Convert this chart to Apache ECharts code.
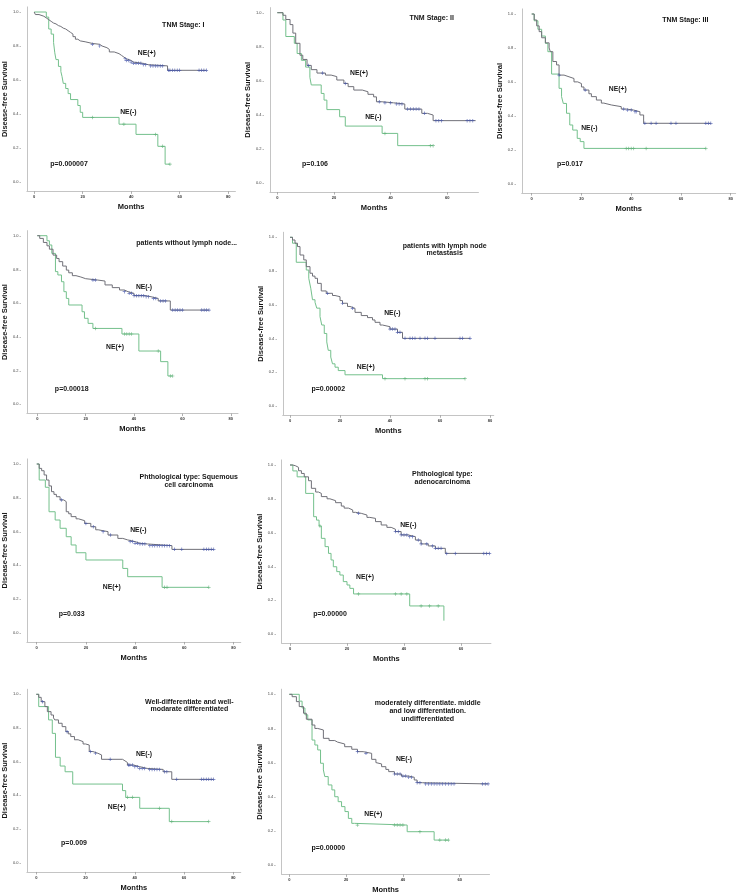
<!DOCTYPE html>
<html><head><meta charset="utf-8">
<script src="https://cdn.jsdelivr.net/npm/echarts@6/dist/echarts.min.js"></script>
<style>html,body{margin:0;padding:0;background:#fff}#c{width:744px;height:896px}</style>
</head><body><div id="c"></div>
<script>
// ---------- DATA (Kaplan–Meier steps: [month, survival]) ----------
const xTicksWide = [0, 20, 40, 60, 80];
const xTicksNarrow = [0, 20, 40, 60];
const yTicks = [0, 0.2, 0.4, 0.6, 0.8, 1.0];

const titles = ['TNM Stage: I', 'TNM Stage: II', 'TNM Stage: III',
  'patients without lymph node...', 'patients with lymph node\nmetastasis',
  'Phthological type: Squemous\ncell carcinoma', 'Phthological type:\nadenocarcinoma',
  'Well-differentiate and well-\nmodarate differentiated',
  'moderately differentiate. middle\nand low differentiation.\nundifferentiated'];
const grayLabels = ['NE(+)', 'NE(+)', 'NE(+)', 'NE(-)', 'NE(-)', 'NE(-)', 'NE(-)', 'NE(-)', 'NE(-)'];
const greenLabels = ['NE(-)', 'NE(-)', 'NE(-)', 'NE(+)', 'NE(+)', 'NE(+)', 'NE(+)', 'NE(+)', 'NE(+)'];
const pValues = ['p=0.000007', 'p=0.106', 'p=0.017', 'p=0.00018', 'p=0.00002', 'p=0.033', 'p=0.00000', 'p=0.009', 'p=0.00000'];

const gray1 = [[0,1],[0.5,0.985],[2,0.975],[4,0.965],[5,0.955],[6,0.945],[7,0.935],[8,0.93],[9,0.92],[10,0.915],[11,0.905],[12,0.9],[13,0.89],[14,0.88],[15,0.87],[16,0.855],[17,0.84],[18,0.83],[19,0.825],[21,0.815],[24,0.81],[27,0.8],[28,0.79],[30,0.78],[31,0.765],[33,0.755],[35,0.745],[36,0.735],[37,0.725],[38,0.715],[40,0.705],[41,0.698],[45,0.69],[47,0.683],[55,0.657],[71,0.657]];
const grayCens1 = [24,27,37.5,38,39,40,41,42,43,44,45,46,48,49,50,51,52,53,55.5,56,57,58,59,60,68,69,70,71];
const green1 = [[0,1],[5,0.97],[6,0.9],[7,0.87],[8,0.82],[8.5,0.76],[9,0.72],[10,0.68],[11,0.65],[11.5,0.62],[12,0.58],[13,0.55],[14,0.52],[15,0.485],[18,0.45],[19,0.41],[20,0.38],[35,0.34],[42,0.28],[51,0.21],[54,0.105],[56,0.105]];
const greenCens1 = [24,37,50,53,56];

const gray2 = [[0,1],[2,0.985],[3,0.96],[4.5,0.93],[5.5,0.88],[6.5,0.82],[8,0.75],[9,0.725],[10.5,0.69],[12,0.665],[14,0.645],[17,0.633],[19,0.624],[21,0.604],[23.5,0.584],[25,0.565],[27,0.545],[30,0.535],[32,0.52],[34,0.505],[35,0.476],[37,0.47],[41,0.463],[45,0.433],[51,0.408],[53,0.398],[55,0.365],[70,0.365]];
const grayCens2 = [11,16,24,36,38,40,42,43,44,46,47,48,49,50,52,56,57,58,67,68,69];
const green2 = [[0,1],[2,0.957],[3,0.86],[6,0.82],[7,0.76],[8.5,0.72],[10,0.68],[11.5,0.62],[12,0.575],[15.5,0.525],[16.5,0.486],[17.5,0.43],[22,0.388],[24,0.333],[37,0.29],[42.5,0.218],[55,0.218]];
const greenCens2 = [38,54,55];

const gray3 = [[0,1],[1,0.965],[2,0.93],[3,0.896],[4,0.86],[5.5,0.83],[7,0.8],[7.5,0.778],[8.5,0.72],[10,0.7],[11,0.64],[13,0.63],[15,0.62],[17,0.6],[18.5,0.59],[20,0.57],[21,0.552],[23,0.53],[24,0.513],[26,0.493],[28,0.475],[29,0.464],[32,0.454],[36,0.44],[38,0.434],[41,0.424],[43.5,0.405],[45,0.356],[72,0.356]];
const grayCens3 = [11,21.5,37,38.5,40,41.5,42,45.5,48,50,56,58,70,71,72];
const green3 = [[0,1],[1,0.96],[2.5,0.91],[4,0.87],[5.5,0.827],[6.5,0.778],[8,0.646],[11,0.562],[12,0.513],[12.7,0.473],[14,0.415],[15.3,0.346],[16.5,0.316],[18.3,0.267],[19.5,0.248],[21,0.208],[70,0.208]];
const greenCens3 = [38,39,40,41,46,70];

const gray4 = [[0,1],[1,0.984],[2.5,0.96],[4,0.94],[5,0.92],[6.5,0.885],[8,0.865],[9,0.846],[10.5,0.82],[12,0.796],[13,0.78],[14.5,0.763],[16,0.755],[18,0.745],[20,0.737],[25,0.731],[28,0.708],[31,0.692],[34,0.678],[36,0.668],[37.5,0.658],[40,0.644],[45,0.638],[47,0.628],[50,0.613],[55,0.559],[71,0.559]];
const grayCens4 = [23,24,36,38,39,40,41,42,43,44,45,46,48,49,51,52,53,56,57,58,59,60,68,69,70,71];
const green4 = [[0,1],[4,0.97],[5,0.945],[6,0.895],[7.5,0.787],[8.5,0.767],[10,0.727],[11,0.668],[12,0.628],[13,0.589],[18.5,0.549],[19.5,0.51],[21,0.48],[23,0.45],[35,0.417],[42,0.316],[51,0.253],[54,0.168],[56,0.168]];
const greenCens4 = [24,36,37,38,39,50,55,56];

const gray5 = [[0,1],[1,0.984],[2,0.965],[3,0.945],[4,0.895],[5.5,0.866],[6.5,0.826],[8,0.787],[9,0.77],[10,0.757],[11,0.727],[12.5,0.682],[14.5,0.668],[17,0.655],[18,0.648],[20,0.625],[21,0.609],[23,0.59],[24,0.579],[26,0.555],[28.5,0.536],[31,0.524],[33,0.51],[34,0.496],[36,0.48],[37,0.47],[40,0.456],[43,0.437],[45,0.401],[72,0.401]];
const grayCens5 = [15,21,25,40,41,42,43,44,46,48,49,50,52,54,55,58,68,69,72];
const green5 = [[0,1],[1,0.965],[2.5,0.852],[6.5,0.806],[7.5,0.757],[8.3,0.698],[9,0.63],[10,0.615],[10.7,0.58],[12,0.53],[12.7,0.48],[13.7,0.43],[14.7,0.38],[15.3,0.33],[16.3,0.29],[17,0.25],[18,0.23],[19.3,0.21],[22,0.185],[37,0.162],[70,0.162]];
const greenCens5 = [38,46,54,55,70];

const gray6 = [[0,1],[1,0.974],[2,0.96],[3,0.935],[4,0.905],[5,0.87],[6,0.836],[7,0.82],[8,0.806],[9.5,0.787],[11,0.777],[12,0.717],[13,0.705],[14,0.688],[16,0.675],[17,0.664],[19.5,0.648],[22,0.628],[24,0.61],[25,0.599],[29,0.579],[33,0.559],[35,0.55],[37,0.54],[40,0.53],[42,0.526],[45,0.516],[55,0.494],[72,0.494]];
const grayCens6 = [10,20,23,27,30,38,39,40,41,42,43,44,46,47,48,49,50,51,52,53,54,56,59,68,69,70,71,72];
const green6 = [[0,1],[1,0.905],[3.5,0.862],[5,0.717],[7.5,0.668],[9.5,0.619],[12,0.569],[14,0.52],[16,0.474],[20,0.431],[35,0.381],[37,0.332],[51,0.269],[70,0.269]];
const greenCens6 = [52,53,70];

const gray7 = [[0,1],[1,0.995],[2,0.986],[3,0.966],[4,0.95],[5,0.93],[6.5,0.907],[7.5,0.862],[9,0.84],[10,0.832],[11,0.813],[13,0.8],[14,0.789],[16,0.777],[18,0.757],[19,0.745],[20.5,0.734],[22,0.72],[23,0.714],[25,0.704],[27,0.69],[28,0.684],[30,0.665],[32,0.645],[34,0.631],[35.5,0.62],[37,0.606],[39,0.586],[41.5,0.576],[44,0.556],[46,0.533],[48.5,0.521],[51,0.507],[54.5,0.477],[70,0.477]];
const grayCens7 = [24,37,38,39,40,41,42,43,45,46,48,50,51,52,53,55,58,68,69,70];
const green7 = [[0,1],[1,0.965],[2.5,0.93],[5.5,0.832],[8.3,0.694],[9.3,0.674],[10.2,0.639],[11,0.566],[12.3,0.517],[13.5,0.477],[14.4,0.438],[15.2,0.398],[16.4,0.369],[17.5,0.349],[18.7,0.31],[20,0.29],[21,0.27],[22.3,0.237],[42,0.166],[54,0.079]];
const greenCens7 = [10.5,24,37,39,41,46,49,52];

const gray8 = [[0,1],[1,0.982],[2,0.956],[3.5,0.927],[4.5,0.897],[6,0.877],[7,0.86],[7.5,0.848],[9,0.828],[10.5,0.808],[12,0.778],[13,0.765],[14,0.749],[15.5,0.73],[17,0.719],[19,0.705],[20,0.699],[21.5,0.66],[23,0.65],[25,0.64],[26.5,0.614],[35,0.605],[36,0.595],[37,0.58],[39.5,0.57],[42,0.56],[45,0.554],[51.5,0.54],[55,0.495],[72,0.495]];
const grayCens8 = [2.5,12.5,22,24,30,37.5,38,39,40,41,42,43,44,46,47,48,49,50,52,53,57,67,68,69,70,71,72];
const green8 = [[0,1],[1,0.927],[5,0.848],[6.5,0.768],[7.8,0.626],[9.7,0.574],[11.7,0.54],[14.8,0.467],[35,0.428],[36.3,0.388],[42,0.323],[54,0.244],[70,0.244]];
const greenCens8 = [37,39,50,55,70];

const gray9 = [[0,1],[1,0.986],[2.5,0.957],[3.5,0.928],[5,0.889],[6,0.854],[8,0.82],[9,0.8],[10,0.791],[12,0.742],[14,0.729],[16,0.72],[17,0.709],[19.5,0.693],[22,0.678],[24,0.664],[26,0.654],[29,0.619],[30.5,0.6],[31,0.592],[32.5,0.576],[34,0.56],[35,0.547],[37,0.533],[39.5,0.521],[42,0.514],[44,0.498],[45,0.482],[47,0.475],[70,0.475]];
const grayCens9 = [24,27,37,38,39,40,41,42,43,45,46,48,49,50,51,52,53,54,55,56,57,58,68,69,70];
const green9 = [[0,1],[3.5,0.96],[4.5,0.92],[5.5,0.88],[6.5,0.85],[8,0.732],[9,0.703],[10,0.674],[11,0.596],[12,0.557],[12.5,0.518],[13.7,0.469],[15,0.44],[16,0.4],[17.2,0.371],[18.4,0.342],[19.6,0.313],[20.8,0.273],[22,0.244],[23,0.234],[41.5,0.195],[51,0.146],[56,0.146]];
const greenCens9 = [24,37,38,39,40,46,53,55,56];

const grayCurves = [gray1, gray2, gray3, gray4, gray5, gray6, gray7, gray8, gray9];
const grayCensors = [grayCens1, grayCens2, grayCens3, grayCens4, grayCens5, grayCens6, grayCens7, grayCens8, grayCens9];
const greenCurves = [green1, green2, green3, green4, green5, green6, green7, green8, green9];
const greenCensors = [greenCens1, greenCens2, greenCens3, greenCens4, greenCens5, greenCens6, greenCens7, greenCens8, greenCens9];

// ---------- LAYOUT ----------
// x0: pixel of month 0, sx: px per month, y1/y0: pixel of survival 1.0 / 0.0
const layout = [
  {x0:30,    sx:2.475, y1:12,    y0:182,   xmin:-3,   xmax:83,   ticks:xTicksWide},
  {x0:277.3, sx:2.833, y1:12.7,  y0:182.7, xmin:-2.6, xmax:71,   ticks:xTicksNarrow},
  {x0:531.7, sx:2.4875,y1:14,    y0:183.7, xmin:-4,   xmax:82,   ticks:xTicksWide},
  {x0:34,    sx:2.458, y1:235.7, y0:404.3, xmin:-4.3, xmax:83,   ticks:xTicksWide},
  {x0:290,   sx:2.5,   y1:237.3, y0:406,   xmin:-2.9, xmax:81.5, ticks:xTicksWide},
  {x0:35,    sx:2.479, y1:464,   y0:632.7, xmin:-4,   xmax:83,   ticks:xTicksWide},
  {x0:290,   sx:2.85,  y1:465,   y0:634,   xmin:-2.9, xmax:70.5, ticks:xTicksNarrow},
  {x0:35,    sx:2.479, y1:694.3, y0:862.7, xmin:-3.8, xmax:83,   ticks:xTicksWide},
  {x0:289.3, sx:2.84,  y1:694.3, y0:865,   xmin:-2.7, xmax:70.5, ticks:xTicksNarrow}
];
const YMIN = -0.055, YMAX = 1.03;
const titlePos = [[183.3,25],[431.7,18.3],[685.3,20],[186.7,243.3],[444.7,249.5],[188.7,480.8],[442.3,477.8],[189.3,705.5],[427.7,711.1]];
const grayLabelPos = [[146.7,53.3],[359,72.7],[617.7,89],[144,286.7],[392.3,312.7],[138.3,530],[408.3,525],[144,754.3],[404,759.3]];
const greenLabelPos = [[128.3,111.7],[373.3,116.7],[589.3,128.3],[115,346.7],[365.7,366.7],[111.7,586.7],[365,576.7],[116.7,807.3],[373.3,814.3]];
const pPos = [[69,164],[315,164],[570,164],[71.7,389.3],[328.3,389.3],[71.7,614.3],[330,614],[74,843.3],[328.3,848.3]];

const FONT = "'Liberation Sans', Arial, Helvetica, sans-serif";
const GRAY = '#707078', BLUE = '#4252a8', GREEN = '#74c08c', GREEN_MK = '#5caf76';
const PLUS = 'path://M0,4H10V6H0ZM4,0H6V10H4Z';

function survAt(curve, t) {
  let s = curve[0][1];
  for (const p of curve) { if (p[0] <= t) s = p[1]; else break; }
  return s;
}

const grids = [], xAxes = [], yAxes = [], series = [], graphics = [];
layout.forEach((L, i) => {
  const py = L.y0 - L.y1;
  grids.push({left: L.x0 + L.xmin * L.sx, top: L.y0 - YMAX * py,
              width: (L.xmax - L.xmin) * L.sx, height: (YMAX - YMIN) * py});
  xAxes.push({type:'value', gridIndex:i, min:L.xmin, max:L.xmax,
    name:'Months', nameLocation:'middle', nameGap:11.5,
    nameTextStyle:{fontFamily:FONT, fontSize:7.5, fontWeight:'bold', color:'#151515'},
    axisLine:{show:true, onZero:false, lineStyle:{color:'#c4c4c4', width:1}},
    axisTick:{show:true, length:2.5, customValues:L.ticks, lineStyle:{color:'#9a9a9a', width:0.8}},
    axisLabel:{customValues:L.ticks, fontSize:4, margin:3.5, color:'#333', fontFamily:FONT, fontWeight:'bold'},
    splitLine:{show:false}});
  yAxes.push({type:'value', gridIndex:i, min:YMIN, max:YMAX,
    name:'Disease-free Survival', nameLocation:'middle', nameGap:13.5,
    nameTextStyle:{fontFamily:FONT, fontSize:7.5, fontWeight:'bold', color:'#151515'},
    axisLine:{show:true, onZero:false, lineStyle:{color:'#c4c4c4', width:1}},
    axisTick:{show:false},
    axisLabel:{customValues:yTicks, fontSize:4, margin:6, color:'#444', fontFamily:FONT,
      formatter: v => v.toFixed(1) + ' -'},
    splitLine:{show:false}});
  const gC = grayCurves[i], nC = greenCurves[i];
  series.push({type:'line', xAxisIndex:i, yAxisIndex:i, step:'end', data:nC, symbol:'none',
    lineStyle:{color:GREEN, width:1}, silent:true, z:2});
  series.push({type:'line', xAxisIndex:i, yAxisIndex:i, step:'end', data:gC, symbol:'none',
    lineStyle:{color:GRAY, width:1}, silent:true, z:3});
  series.push({type:'scatter', xAxisIndex:i, yAxisIndex:i, symbol:PLUS, symbolSize:3.5,
    itemStyle:{color:GREEN_MK}, data: greenCensors[i].map(t => [t, survAt(nC, t)]), z:4, silent:true});
  series.push({type:'scatter', xAxisIndex:i, yAxisIndex:i, symbol:PLUS, symbolSize:3.5,
    itemStyle:{color:BLUE}, data: grayCensors[i].map(t => [t, survAt(gC, t)]), z:5, silent:true});

  const txt = (pos, text, size) => ({type:'text', x:pos[0], y:pos[1], silent:true,
    style:{text, fontFamily:FONT, fontSize:size, fontWeight:'bold', fill:'#161616',
      align:'center', verticalAlign:'middle', lineHeight:7.6}});
  graphics.push(txt(titlePos[i], titles[i], 7));
  graphics.push(txt(grayLabelPos[i], grayLabels[i], 6.8));
  graphics.push(txt(greenLabelPos[i], greenLabels[i], 6.8));
  graphics.push(txt(pPos[i], pValues[i], 7));
});

const chart = echarts.init(document.getElementById('c'));
chart.setOption({backgroundColor:'#fff', animation:false, grid:grids, xAxis:xAxes, yAxis:yAxes, series, graphic:graphics});
</script></body></html>
